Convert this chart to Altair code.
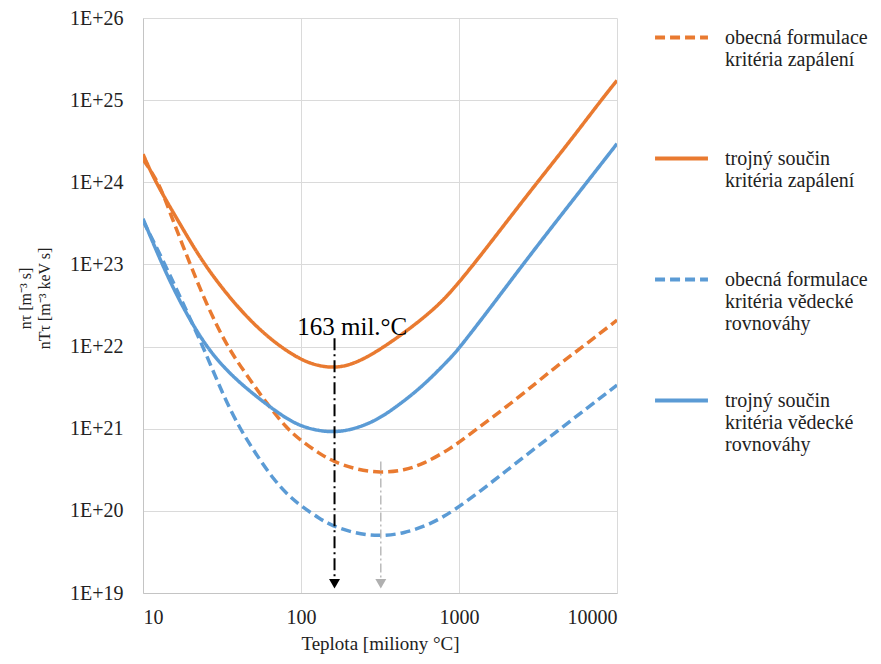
import altair as alt
import pandas as pd

# ---- data ----
series_names = [
    "obecná formulace|kritéria zapálení|",
    "trojný součin|kritéria zapálení|",
    "obecná formulace|kritéria vědecké|rovnováhy",
    "trojný součin|kritéria vědecké|rovnováhy",
]
series_colors = ["#E97A30", "#E97A30", "#5B9BD5", "#5B9BD5"]
series_dashes = [[10, 5], [1, 0], [10, 5], [1, 0]]

# orange dashed: obecná formulace kritéria zapálení
T_od = [10, 12.6, 15, 19.9, 25, 34, 45, 61, 81.5, 100, 130, 160, 220, 318, 450, 600, 885, 1200, 2330, 4000, 6100, 10000]
Y_od = [1.9e24, 1e24, 4e23, 1e23, 3.4e22, 1e22, 4.6e21, 2.0e21, 1e21, 7.2e20, 5.0e20, 4.0e20, 3.2e20, 2.9e20, 3.1e20,
        3.75e20, 5.7e20, 8.9e20, 2.3e21, 5.5e21, 1e22, 2.1e22]

# orange solid: trojný součin kritéria zapálení
T_os = [10, 12, 17, 24.2, 40, 64, 100, 130, 163, 210, 300, 500, 700, 880, 1240, 2000, 3130, 5000, 7940, 10000]
Y_os = [2.2e24, 1e24, 3.2e23, 1e23, 2.9e22, 1.2e22, 6.8e21, 5.8e21, 5.5e21, 6.0e21, 8.5e21, 1.7e22, 2.9e22, 4.5e22,
        1e23, 3.3e23, 1e24, 3.1e24, 1e25, 1.74e25]

# blue dashed: obecná formulace kritéria vědecké rovnováhy
T_bd = [10, 13.8, 18, 24, 32, 41, 52, 67, 85, 100, 130, 157, 220, 310, 450, 650, 930, 1500, 2330, 4380, 10000]
Y_bd = [3.4e23, 1e23, 3.3e22, 1e22, 2.6e21, 1e21, 4.9e20, 2.4e20, 1.48e20, 1.15e20, 8.1e19, 6.6e19, 5.3e19, 4.9e19,
        5.3e19, 6.8e19, 1e20, 2e20, 3.9e20, 1e21, 3.4e21]

# blue solid: trojný součin kritéria vědecké rovnováhy
T_bs = [10, 13.2, 17, 22, 27, 32, 41.3, 61, 80, 100, 130, 163, 210, 300, 425, 600, 881, 1000, 1500, 2540, 4000, 6450, 10000]
Y_bs = [3.6e23, 1e23, 3.6e22, 1.5e22, 8.5e21, 5.8e21, 3.55e21, 1.95e21, 1.35e21, 1.07e21, 9.4e20, 9.1e20, 9.7e20,
        1.25e21, 2.0e21, 3.4e21, 7.2e21, 9.5e21, 2.6e22, 1e23, 3.1e23, 1e24, 2.95e24]

# annotation arrows
arrow_T = [163, 320]
arrow_top = [1.26e22, 4e20]
arrow_bottom = [1.3e19, 1.3e19]
arrow_colors = ["#000000", "#b0b0b0"]
label_T = [211]
label_Y = [1.4e22]
label_text = ["163 mil.°C"]

x_ticks = [10, 100, 1000, 10000]
y_ticks = [1e19, 1e20, 1e21, 1e22, 1e23, 1e24, 1e25, 1e26]

# ---- build tables ----
rows = []
for name, Ts, Ys in zip(series_names, [T_od, T_os, T_bd, T_bs], [Y_od, Y_os, Y_bd, Y_bs]):
    for t, y in zip(Ts, Ys):
        rows.append({"series": name, "T": t, "Y": y})
df = pd.DataFrame(rows)

arr = pd.DataFrame({"T": arrow_T, "top": arrow_top, "bottom": arrow_bottom, "c": arrow_colors})
lab = pd.DataFrame({"T": label_T, "Y": label_Y, "text": label_text})

FONT = "Liberation Serif"
x_scale = alt.Scale(type="log", domain=[10, 10000], nice=False)
y_scale = alt.Scale(type="log", domain=[1e19, 1e26], nice=False)

legend = alt.Legend(
    title=None, orient="none", legendX=510, legendY=-9,
    symbolType="stroke", symbolSize=2800, symbolStrokeWidth=4,
    labelExpr="split(datum.label, '|')", rowPadding=38, padding=0,
)

x_axis = alt.Axis(values=x_ticks, format="d", title="Teplota [miliony °C]",
                  titleY=56, titleBaseline="alphabetic", titleAnchor="middle")
y_axis = alt.Axis(values=y_ticks, labelExpr="'1E+' + format(log(datum.value)/LN10, '.0f')",
                  labelPadding=20,
                  title=["nτ [m⁻³ s]", "nTτ [m⁻³ keV s]"], titleFontSize=16,
                  titleAngle=270, titleX=-118, titleY=280,
                  titleAlign="center", titleBaseline="middle", titleLineHeight=19)

lines = alt.Chart(df).mark_line(strokeWidth=3.5, interpolate="basis", clip=True).encode(
    x=alt.X("T:Q", scale=x_scale, axis=x_axis),
    y=alt.Y("Y:Q", scale=y_scale, axis=y_axis),
    color=alt.Color("series:N", scale=alt.Scale(domain=series_names, range=series_colors), legend=legend),
    strokeDash=alt.StrokeDash("series:N", scale=alt.Scale(domain=series_names, range=series_dashes), legend=legend),
)

rule_black = alt.Chart(arr.iloc[[0]]).mark_rule(strokeWidth=2, strokeDash=[12, 4, 2, 4], color="#000000").encode(
    x=alt.X("T:Q", scale=x_scale), y=alt.Y("top:Q", scale=y_scale), y2="bottom:Q")
rule_gray = alt.Chart(arr.iloc[[1]]).mark_rule(strokeWidth=1.3, strokeDash=[9, 3, 2, 3], color="#b0b0b0").encode(
    x=alt.X("T:Q", scale=x_scale), y=alt.Y("top:Q", scale=y_scale), y2="bottom:Q")
heads = alt.Chart(arr).mark_point(shape="triangle-down", filled=True, size=120, opacity=1).encode(
    x=alt.X("T:Q", scale=x_scale), y=alt.Y("bottom:Q", scale=y_scale),
    color=alt.Color("c:N", scale=None, legend=None))
text = alt.Chart(lab).mark_text(font=FONT, fontSize=25, color="#000000", align="center",
                                baseline="alphabetic").encode(
    x=alt.X("T:Q", scale=x_scale), y=alt.Y("Y:Q", scale=y_scale), text="text:N")

chart = alt.layer(lines, rule_black, rule_gray, heads, text).properties(
    width=474, height=575, autosize="none",
    padding={"left": 135, "top": 10, "right": 256, "bottom": 63},
    background="white",
).configure(font=FONT).configure_view(strokeWidth=0).configure_axis(
    labelFont=FONT, labelFontSize=20, labelColor="#222222", ticks=False, tickSize=0,
    domainColor="#c4c4c4", gridColor="#dadada", titleFont=FONT, titleFontSize=19,
    titleFontWeight="normal", titleColor="#222222",
).configure_axisX(labelPadding=14).configure_legend(
    labelFont=FONT, labelFontSize=20, labelColor="#222222", labelLimit=300, labelOffset=15,
    labelBaseline="middle",
)

chart.save("out.html", embed_options={"renderer": "svg", "actions": False})
